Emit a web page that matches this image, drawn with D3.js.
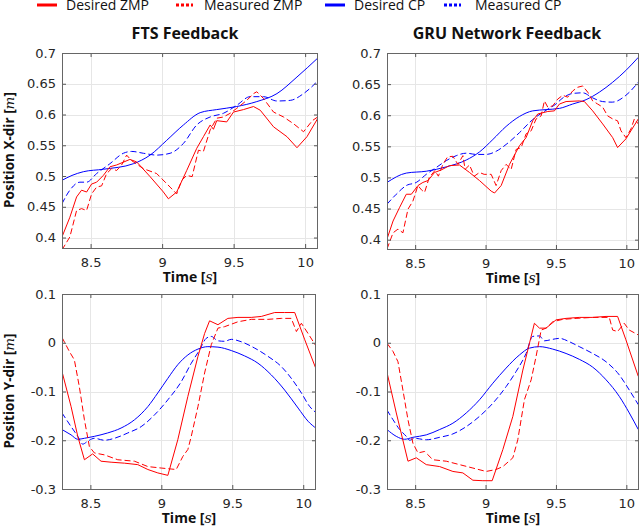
<!DOCTYPE html>
<html lang="en">
<head>
    <meta charset="UTF-8">
    <title>ZMP / CP tracking</title>
    <style>
        body, html {
            margin: 0;
            padding: 0;
            background: #fff;
        }
        #chart {
            width: 640px;
            height: 532px;
        }
        .tick text {
            font-family: "DejaVu Sans", sans-serif;
            font-size: 13px;
            fill: #262626;
        }
        .lbl {
            font-family: "Open Sans", sans-serif;
            font-weight: bold;
            fill: #111;
        }
    </style>
    <script src="https://d3js.org/d3.v7.min.js"></script>
</head>
<body>
    <div id="chart"></div>
    <script>
        // tick labels / text
        const timeTicks = [8.5, 9, 9.5, 10];
        const xDirTicks = [0.4, 0.45, 0.5, 0.55, 0.6, 0.65, 0.7];
        const yDirTicks = [-0.3, -0.2, -0.1, 0, 0.1];
        const panelTitles = ["FTS Feedback", "GRU Network Feedback"];
        const legendLabels = ["Desired ZMP", "Measured ZMP", "Desired CP", "Measured CP"];

        // ---- FTS feedback, X direction  [time, position]
        const ftsXZmpDes = [[8.3,0.401],[8.355,0.433],[8.402,0.466],[8.437,0.477],[8.472,0.474],[8.507,0.487],[8.542,0.490],[8.589,0.501],[8.635,0.515],[8.682,0.518],[8.775,0.527],[8.822,0.523],[8.916,0.499],[9.009,0.474],[9.044,0.463],[9.102,0.474],[9.172,0.509],[9.242,0.545],[9.289,0.564],[9.336,0.583],[9.359,0.576],[9.382,0.590],[9.452,0.588],[9.499,0.604],[9.569,0.608],[9.639,0.613],[9.686,0.607],[9.779,0.580],[9.873,0.564],[9.943,0.546],[10.013,0.564],[10.094,0.596]];
        const ftsXZmpMeas = [[8.3,0.380],[8.355,0.401],[8.402,0.444],[8.437,0.447],[8.472,0.444],[8.507,0.471],[8.542,0.482],[8.577,0.484],[8.612,0.504],[8.647,0.512],[8.682,0.509],[8.717,0.518],[8.752,0.534],[8.787,0.525],[8.869,0.512],[8.962,0.504],[9.056,0.482],[9.102,0.471],[9.137,0.493],[9.172,0.501],[9.21,0.499],[9.254,0.542],[9.289,0.540],[9.336,0.575],[9.382,0.594],[9.429,0.596],[9.476,0.602],[9.522,0.610],[9.592,0.623],[9.639,0.634],[9.662,0.637],[9.709,0.626],[9.779,0.604],[9.849,0.596],[9.919,0.585],[9.989,0.572],[10.05,0.590],[10.094,0.597]];
        const ftsXCpDes = [[8.3,0.493],[8.37,0.501],[8.449,0.507],[8.589,0.511],[8.799,0.520],[8.916,0.534],[9.032,0.558],[9.149,0.583],[9.266,0.603],[9.382,0.608],[9.522,0.613],[9.662,0.621],[9.803,0.634],[9.943,0.661],[10.094,0.693]];
        const ftsXCpMeas = [[8.3,0.455],[8.355,0.477],[8.425,0.490],[8.472,0.490],[8.542,0.504],[8.635,0.520],[8.729,0.537],[8.787,0.540],[8.869,0.537],[8.962,0.534],[9.056,0.537],[9.149,0.553],[9.242,0.583],[9.336,0.596],[9.429,0.602],[9.522,0.615],[9.616,0.629],[9.709,0.629],[9.803,0.622],[9.896,0.623],[9.989,0.634],[10.094,0.656]];

        // ---- GRU feedback, X direction
        const gruXZmpDes = [[8.3,0.401],[8.343,0.430],[8.39,0.452],[8.437,0.473],[8.473,0.473],[8.52,0.487],[8.555,0.492],[8.591,0.495],[8.638,0.508],[8.685,0.512],[8.744,0.519],[8.815,0.520],[8.886,0.508],[8.957,0.495],[9.04,0.478],[9.064,0.475],[9.111,0.487],[9.17,0.521],[9.241,0.551],[9.288,0.564],[9.335,0.591],[9.371,0.602],[9.442,0.606],[9.489,0.607],[9.525,0.618],[9.572,0.622],[9.666,0.623],[9.702,0.622],[9.761,0.607],[9.832,0.586],[9.903,0.564],[9.938,0.548],[9.997,0.562],[10.085,0.594]];
        const gruXZmpMeas = [[8.3,0.385],[8.343,0.411],[8.378,0.417],[8.413,0.411],[8.449,0.449],[8.484,0.462],[8.52,0.487],[8.545,0.480],[8.567,0.476],[8.6,0.500],[8.64,0.511],[8.665,0.502],[8.697,0.521],[8.73,0.533],[8.768,0.534],[8.804,0.521],[8.839,0.535],[8.855,0.513],[8.886,0.520],[8.92,0.502],[8.957,0.508],[8.99,0.505],[9.04,0.505],[9.075,0.487],[9.111,0.511],[9.146,0.521],[9.182,0.513],[9.217,0.545],[9.253,0.548],[9.288,0.570],[9.324,0.575],[9.359,0.594],[9.395,0.599],[9.418,0.623],[9.442,0.613],[9.477,0.615],[9.513,0.626],[9.548,0.632],[9.584,0.629],[9.619,0.639],[9.655,0.645],[9.69,0.647],[9.726,0.637],[9.761,0.623],[9.796,0.618],[9.832,0.613],[9.867,0.599],[9.903,0.594],[9.938,0.591],[9.962,0.575],[9.997,0.564],[10.033,0.578],[10.057,0.594],[10.085,0.586]];
        const gruXCpDes = [[8.3,0.492],[8.437,0.507],[8.579,0.510],[8.721,0.517],[8.863,0.528],[8.957,0.541],[9.052,0.561],[9.146,0.582],[9.241,0.598],[9.335,0.607],[9.43,0.609],[9.525,0.611],[9.619,0.618],[9.714,0.625],[9.808,0.637],[9.903,0.653],[9.997,0.672],[10.085,0.693]];
        const gruXCpMeas = [[8.3,0.457],[8.366,0.473],[8.437,0.487],[8.508,0.492],[8.579,0.505],[8.65,0.516],[8.721,0.527],[8.792,0.535],[8.863,0.539],[8.934,0.537],[9.004,0.537],[9.075,0.542],[9.146,0.553],[9.241,0.572],[9.335,0.593],[9.43,0.608],[9.5,0.618],[9.55,0.628],[9.62,0.635],[9.69,0.636],[9.76,0.628],[9.83,0.622],[9.9,0.621],[9.997,0.632],[10.085,0.653]];

        // ---- FTS feedback, Y direction
        const ftsYZmpDes = [[8.3,-0.059],[8.364,-0.131],[8.411,-0.192],[8.458,-0.240],[8.516,-0.228],[8.575,-0.243],[8.646,-0.245],[8.74,-0.247],[8.834,-0.250],[8.905,-0.260],[8.975,-0.267],[9.046,-0.272],[9.116,-0.199],[9.187,-0.110],[9.258,-0.028],[9.305,0.019],[9.34,0.045],[9.399,0.037],[9.469,0.050],[9.54,0.052],[9.634,0.052],[9.705,0.054],[9.799,0.062],[9.869,0.062],[9.94,0.062],[10.011,0.006],[10.093,-0.056]];
        const ftsYZmpMeas = [[8.3,0.011],[8.352,-0.018],[8.387,-0.035],[8.422,-0.090],[8.458,-0.158],[8.493,-0.213],[8.528,-0.226],[8.599,-0.230],[8.693,-0.240],[8.811,-0.243],[8.905,-0.254],[8.999,-0.257],[9.069,-0.259],[9.105,-0.260],[9.152,-0.233],[9.187,-0.219],[9.211,-0.192],[9.258,-0.131],[9.305,-0.062],[9.352,-0.004],[9.399,0.030],[9.446,0.033],[9.54,0.043],[9.634,0.048],[9.752,0.048],[9.846,0.050],[9.916,0.050],[9.952,0.023],[9.987,0.040],[10.034,0.019],[10.093,-0.008]];
        const ftsYCpDes = [[8.3,-0.178],[8.364,-0.189],[8.411,-0.198],[8.458,-0.196],[8.528,-0.192],[8.622,-0.185],[8.716,-0.175],[8.811,-0.158],[8.905,-0.131],[8.975,-0.103],[9.046,-0.073],[9.116,-0.045],[9.187,-0.025],[9.258,-0.013],[9.328,-0.008],[9.399,-0.009],[9.493,-0.016],[9.587,-0.027],[9.681,-0.042],[9.775,-0.066],[9.869,-0.097],[9.964,-0.134],[10.034,-0.161],[10.093,-0.176]];
        const ftsYCpMeas = [[8.3,-0.144],[8.364,-0.172],[8.411,-0.192],[8.446,-0.208],[8.481,-0.202],[8.528,-0.196],[8.599,-0.200],[8.669,-0.196],[8.764,-0.185],[8.858,-0.172],[8.952,-0.148],[9.046,-0.117],[9.14,-0.080],[9.211,-0.042],[9.269,-0.015],[9.316,0.009],[9.352,0.013],[9.399,0.004],[9.446,0.003],[9.493,0.007],[9.564,0.002],[9.658,-0.011],[9.752,-0.028],[9.846,-0.049],[9.916,-0.073],[9.987,-0.103],[10.046,-0.131],[10.093,-0.144]];

        // ---- GRU feedback, Y direction
        const gruYZmpDes = [[8.3,-0.061],[8.366,-0.144],[8.449,-0.243],[8.508,-0.236],[8.579,-0.250],[8.674,-0.254],[8.768,-0.264],[8.839,-0.267],[8.91,-0.282],[8.981,-0.283],[9.047,-0.283],[9.123,-0.219],[9.194,-0.151],[9.265,-0.056],[9.312,-0.001],[9.347,0.040],[9.383,0.030],[9.43,0.030],[9.501,0.047],[9.572,0.050],[9.666,0.052],[9.761,0.052],[9.856,0.054],[9.938,0.054],[9.997,0.006],[10.085,-0.069]];
        const gruYZmpMeas = [[8.3,-0.001],[8.343,-0.018],[8.378,-0.039],[8.413,-0.097],[8.449,-0.158],[8.484,-0.206],[8.52,-0.226],[8.567,-0.223],[8.626,-0.240],[8.721,-0.243],[8.815,-0.250],[8.91,-0.257],[9.004,-0.264],[9.075,-0.260],[9.123,-0.254],[9.194,-0.236],[9.229,-0.199],[9.276,-0.117],[9.324,-0.076],[9.359,-0.028],[9.395,0.026],[9.43,0.030],[9.477,0.043],[9.548,0.048],[9.643,0.050],[9.761,0.052],[9.879,0.052],[9.903,0.026],[9.938,0.023],[9.985,0.040],[10.021,0.026],[10.085,0.016]];
        const gruYCpDes = [[8.3,-0.178],[8.366,-0.192],[8.425,-0.198],[8.484,-0.194],[8.579,-0.189],[8.674,-0.178],[8.768,-0.165],[8.863,-0.144],[8.957,-0.117],[9.052,-0.083],[9.146,-0.052],[9.241,-0.025],[9.312,-0.011],[9.383,-0.008],[9.477,-0.013],[9.572,-0.022],[9.666,-0.034],[9.761,-0.050],[9.856,-0.076],[9.95,-0.110],[10.021,-0.144],[10.085,-0.178]];
        const gruYCpMeas = [[8.3,-0.138],[8.343,-0.158],[8.39,-0.178],[8.437,-0.192],[8.461,-0.200],[8.496,-0.196],[8.579,-0.199],[8.674,-0.194],[8.768,-0.187],[8.863,-0.172],[8.957,-0.151],[9.052,-0.124],[9.146,-0.090],[9.217,-0.059],[9.288,-0.022],[9.335,0.013],[9.383,0.014],[9.418,0.004],[9.477,0.007],[9.525,0.009],[9.596,0.002],[9.666,-0.008],[9.761,-0.022],[9.856,-0.039],[9.95,-0.066],[10.021,-0.097],[10.085,-0.127]];

        const RED = "#ff0000", BLUE = "#0000ff";
        const timeDomain = [8.3, 10.09];

        const svg = d3.select("#chart").append("svg")
            .attr("width", 640)
            .attr("height", 532);

        const panels = [
            { left: 62, right: 318, top: 53, bottom: 248, yDom: [0.383, 0.7], yTicks: xDirTicks,
              series: [ftsXCpDes, ftsXCpMeas, ftsXZmpDes, ftsXZmpMeas] },
            { left: 387, right: 639, top: 53, bottom: 249, yDom: [0.385, 0.7], yTicks: xDirTicks,
              series: [gruXCpDes, gruXCpMeas, gruXZmpDes, gruXZmpMeas] },
            { left: 62, right: 316, top: 294, bottom: 489, yDom: [-0.3, 0.1], yTicks: yDirTicks,
              series: [ftsYCpDes, ftsYCpMeas, ftsYZmpDes, ftsYZmpMeas] },
            { left: 387, right: 639, top: 294, bottom: 489, yDom: [-0.3, 0.1], yTicks: yDirTicks,
              series: [gruYCpDes, gruYCpMeas, gruYZmpDes, gruYZmpMeas] }
        ];
        // order of series above: desired CP, measured CP, desired ZMP, measured ZMP
        const styles = [
            { color: BLUE, dash: null, curve: d3.curveMonotoneX },
            { color: BLUE, dash: "6,3", curve: d3.curveMonotoneX },
            { color: RED, dash: null, curve: d3.curveLinear },
            { color: RED, dash: "6,3", curve: d3.curveLinear }
        ];

        panels.forEach((p, pi) => {
            const x = d3.scaleLinear().domain(timeDomain).range([p.left, p.right]);
            const y = d3.scaleLinear().domain(p.yDom).range([p.bottom, p.top]);
            const g = svg.append("g");

            // grid
            g.append("g").selectAll("line").data(timeTicks).join("line")
                .attr("x1", d => Math.round(x(d)) + 0.5).attr("x2", d => Math.round(x(d)) + 0.5)
                .attr("y1", p.top).attr("y2", p.bottom)
                .attr("stroke", "#e6e6e6");
            g.append("g").selectAll("line").data(p.yTicks).join("line")
                .attr("y1", d => Math.round(y(d)) + 0.5).attr("y2", d => Math.round(y(d)) + 0.5)
                .attr("x1", p.left).attr("x2", p.right)
                .attr("stroke", "#e6e6e6");

            // data
            const clipId = "clip" + pi;
            g.append("clipPath").attr("id", clipId).append("rect")
                .attr("x", p.left).attr("y", p.top)
                .attr("width", p.right - p.left).attr("height", p.bottom - p.top);
            const lines = g.append("g").attr("clip-path", `url(#${clipId})`);
            p.series.forEach((s, si) => {
                const st = styles[si];
                lines.append("path")
                    .datum(s)
                    .attr("fill", "none")
                    .attr("stroke", st.color)
                    .attr("stroke-width", 1)
                    .attr("stroke-dasharray", st.dash)
                    .attr("d", d3.line().curve(st.curve).x(d => x(d[0])).y(d => y(d[1])));
            });

            // axes (labels + inner ticks)
            const xAxis = g.append("g")
                .attr("transform", `translate(0,${p.bottom})`)
                .call(d3.axisBottom(x).tickValues(timeTicks).tickFormat(d => String(d))
                    .tickSizeInner(-4).tickSizeOuter(0).tickPadding(10));
            const yAxis = g.append("g")
                .attr("transform", `translate(${p.left},0)`)
                .call(d3.axisLeft(y).tickValues(p.yTicks).tickFormat(d => String(d))
                    .tickSizeInner(-4).tickSizeOuter(0).tickPadding(6));
            [xAxis, yAxis].forEach(a => {
                a.select(".domain").remove();
                a.selectAll(".tick line").attr("stroke", "#555");
            });
            // top / right inner ticks
            g.append("g")
                .attr("transform", `translate(0,${p.top})`)
                .call(d3.axisTop(x).tickValues(timeTicks).tickFormat("").tickSizeInner(-4).tickSizeOuter(0))
                .call(a => { a.select(".domain").remove(); a.selectAll("line").attr("stroke", "#555"); });
            g.append("g")
                .attr("transform", `translate(${p.right},0)`)
                .call(d3.axisRight(y).tickValues(p.yTicks).tickFormat("").tickSizeInner(-4).tickSizeOuter(0))
                .call(a => { a.select(".domain").remove(); a.selectAll("line").attr("stroke", "#555"); });

            // frame
            g.append("rect")
                .attr("x", p.left + 0.5).attr("y", p.top + 0.5)
                .attr("width", p.right - p.left - 1).attr("height", p.bottom - p.top)
                .attr("fill", "none")
                .attr("stroke", "#666");

            // x axis title
            const tl = g.append("text").attr("class", "lbl")
                .attr("x", (p.left + p.right) / 2)
                .attr("y", p.bottom + 34)
                .attr("text-anchor", "middle")
                .style("font-size", "14px");
            tl.append("tspan").text("Time [");
            tl.append("tspan").text("s").style("font-family", "DejaVu Serif").style("font-style", "italic").style("font-weight", "normal");
            tl.append("tspan").text("]");
        });

        // panel titles
        [[185, panelTitles[0]], [507, panelTitles[1]]].forEach(([cx, t]) => {
            svg.append("text").attr("class", "lbl")
                .attr("x", cx).attr("y", 39)
                .attr("text-anchor", "middle")
                .style("font-size", "16px")
                .text(t);
        });

        // y axis titles
        [[150, "X-dir"], [391, "Y-dir"]].forEach(([cy, t]) => {
            const yl = svg.append("text").attr("class", "lbl")
                .attr("transform", `translate(14,${cy}) rotate(-90)`)
                .attr("text-anchor", "middle")
                .style("font-size", "13.5px");
            yl.append("tspan").text(`Position ${t} [`);
            yl.append("tspan").text("m").style("font-family", "DejaVu Serif").style("font-style", "italic").style("font-weight", "normal");
            yl.append("tspan").text("]");
        });

        // legend
        const legendItems = [
            { x1: 37, x2: 57, tx: 66, color: RED, dash: null },
            { x1: 176, x2: 193, tx: 204, color: RED, dash: "3,2" },
            { x1: 325, x2: 345, tx: 354, color: BLUE, dash: null },
            { x1: 444, x2: 461, tx: 475, color: BLUE, dash: "3,2" }
        ];
        legendItems.forEach((it, i) => {
            svg.append("line")
                .attr("x1", it.x1).attr("x2", it.x2).attr("y1", 5).attr("y2", 5)
                .attr("stroke", it.color).attr("stroke-width", 3)
                .attr("stroke-dasharray", it.dash);
            svg.append("text")
                .attr("x", it.tx).attr("y", 10)
                .style("font-family", "Open Sans, sans-serif")
                .style("font-size", "14px")
                .attr("fill", "#111")
                .text(legendLabels[i]);
        });
    </script>
</body>
</html>
